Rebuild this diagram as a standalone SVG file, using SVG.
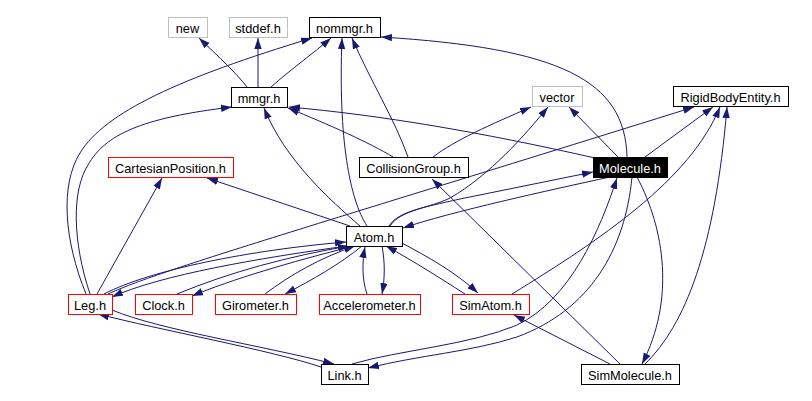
<svg xmlns="http://www.w3.org/2000/svg" width="812" height="401" viewBox="0 0 812 401">
<defs>
<marker id="arr" markerWidth="11" markerHeight="8" refX="11" refY="4" orient="auto" markerUnits="userSpaceOnUse"><path d="M0,0.3 L11,4 L0,7.7 z" fill="#191970"/></marker>
<style>
.e{fill:none;stroke:#191970;stroke-width:1;marker-end:url(#arr)}
.n rect{fill:#fff;stroke:#000;stroke-width:1}
.g rect{stroke:#bfbfbf}
.r rect{stroke:#ff0000}
.n text{font-family:"Liberation Sans",Arial,Helvetica,sans-serif;font-size:12.8px;text-anchor:middle;fill:#000}
#molecule rect{fill:#000}
#molecule text{fill:#fff}
</style>
</defs>
<rect width="812" height="401" fill="#fff"/>
<g id="connectors">
<path class="e" d="M247,87 C238,75 218,56 199,38"/>
<path class="e" d="M258,87 L258,38"/>
<path class="e" d="M271,87 C290,70 315,52 331,38"/>
<path class="e" d="M86,294 C64,240 60,185 80,153 C105,112 180,78 312,38"/>
<path class="e" d="M90,294 C72,240 72,190 88,165 C105,135 140,118 232,107"/>
<path class="e" d="M360,226 C330,200 285,160 264,108"/>
<path class="e" d="M367,226 C350,200 338,140 342,38"/>
<path class="e" d="M408,157 C395,120 370,80 352,38"/>
<path class="e" d="M627,157 C625,80 560,48 381,37"/>
<path class="e" d="M393,157 C370,143 330,125 288,108"/>
<path class="e" d="M595,158 C480,132 380,115 289,107"/>
<path class="e" d="M433,157 C455,140 490,125 531,107"/>
<path class="e" d="M390,226 C400,210 430,208 450,198 C490,175 525,135 548,107"/>
<path class="e" d="M618,157 L569,107"/>
<path class="e" d="M645,157 L713,107"/>
<path class="e" d="M108,294 C160,270 300,230 694,107"/>
<path class="e" d="M512,294 C600,240 690,180 720,107"/>
<path class="e" d="M645,364 C685,325 715,250 727,107"/>
<path class="e" d="M637,177 C665,230 675,300 642,364"/>
<path class="e" d="M352,364 C400,350 470,345 517,325 C570,300 600,230 617,178"/>
<path class="e" d="M632,177 C625,250 590,310 517,337 C470,352 420,355 368,368"/>
<path class="e" d="M620,364 L432,179"/>
<path class="e" d="M610,364 L514,315"/>
<path class="e" d="M389,226 C398,212 420,208 460,199 L593,172"/>
<path class="e" d="M610,177 C550,190 450,212 403,228"/>
<path class="e" d="M350,226 L207,178"/>
<path class="e" d="M97,294 L162,178"/>
<path class="e" d="M400,242 C430,258 455,272 478,293"/>
<path class="e" d="M465,294 C440,278 415,262 386,246"/>
<path class="e" d="M367,294 C362,280 362,262 365,247"/>
<path class="e" d="M382,246 C385,262 385,278 382,294"/>
<path class="e" d="M265,294 C290,275 320,258 355,246"/>
<path class="e" d="M362,246 C340,264 312,280 285,294"/>
<path class="e" d="M177,294 C230,272 290,256 349,246"/>
<path class="e" d="M354,246 C290,262 230,280 192,296"/>
<path class="e" d="M104,294 C150,270 250,250 346,242"/>
<path class="e" d="M347,246 C260,258 160,275 112,297"/>
<path class="e" d="M112,310 C160,330 260,345 334,364"/>
<path class="e" d="M321,367 C270,350 160,330 98,314"/>
</g>
<g id="new" class="n g"><rect x="168.5" y="17.5" width="39" height="20"/><text x="187.5" y="32.5">new</text></g>
<g id="stddef" class="n g"><rect x="229.5" y="17.5" width="58" height="20"/><text x="258" y="32.5">stddef.h</text></g>
<g id="nommgr" class="n"><rect x="309.5" y="17.5" width="71" height="20"/><text x="344.5" y="32.5">nommgr.h</text></g>
<g id="mmgr" class="n"><rect x="231.5" y="87.5" width="56" height="20"/><text x="259" y="102.5">mmgr.h</text></g>
<g id="vector" class="n g"><rect x="532.5" y="86.5" width="50" height="20"/><text x="557" y="101.5">vector</text></g>
<g id="rigidbodyentity" class="n"><rect x="673.5" y="86.5" width="115" height="20"/><text x="730.5" y="101.5">RigidBodyEntity.h</text></g>
<g id="cartesianposition" class="n r"><rect x="108.5" y="157.5" width="125" height="20"/><text x="170.5" y="172.5">CartesianPosition.h</text></g>
<g id="collisiongroup" class="n"><rect x="359.5" y="157.5" width="109" height="20"/><text x="413.5" y="172.5">CollisionGroup.h</text></g>
<g id="molecule" class="n"><rect x="593.5" y="157.5" width="74" height="20"/><text x="630" y="172.5">Molecule.h</text></g>
<g id="atom" class="n"><rect x="346.5" y="226.5" width="56" height="20"/><text x="374" y="241.5">Atom.h</text></g>
<g id="leg" class="n r"><rect x="68.5" y="294.5" width="44" height="20"/><text x="90" y="309.5">Leg.h</text></g>
<g id="clock" class="n r"><rect x="135.5" y="294.5" width="57" height="20"/><text x="163.5" y="309.5">Clock.h</text></g>
<g id="girometer" class="n r"><rect x="215.5" y="294.5" width="81" height="20"/><text x="255.5" y="309.5">Girometer.h</text></g>
<g id="accelerometer" class="n r"><rect x="319.5" y="294.5" width="101" height="20"/><text x="369.5" y="309.5">Accelerometer.h</text></g>
<g id="simatom" class="n r"><rect x="452.5" y="294.5" width="77" height="20"/><text x="490.5" y="309.5">SimAtom.h</text></g>
<g id="link" class="n"><rect x="321.5" y="364.5" width="47" height="20"/><text x="344.5" y="379.5">Link.h</text></g>
<g id="simmolecule" class="n"><rect x="581.5" y="364.5" width="98" height="20"/><text x="630" y="379.5">SimMolecule.h</text></g>
</svg>
